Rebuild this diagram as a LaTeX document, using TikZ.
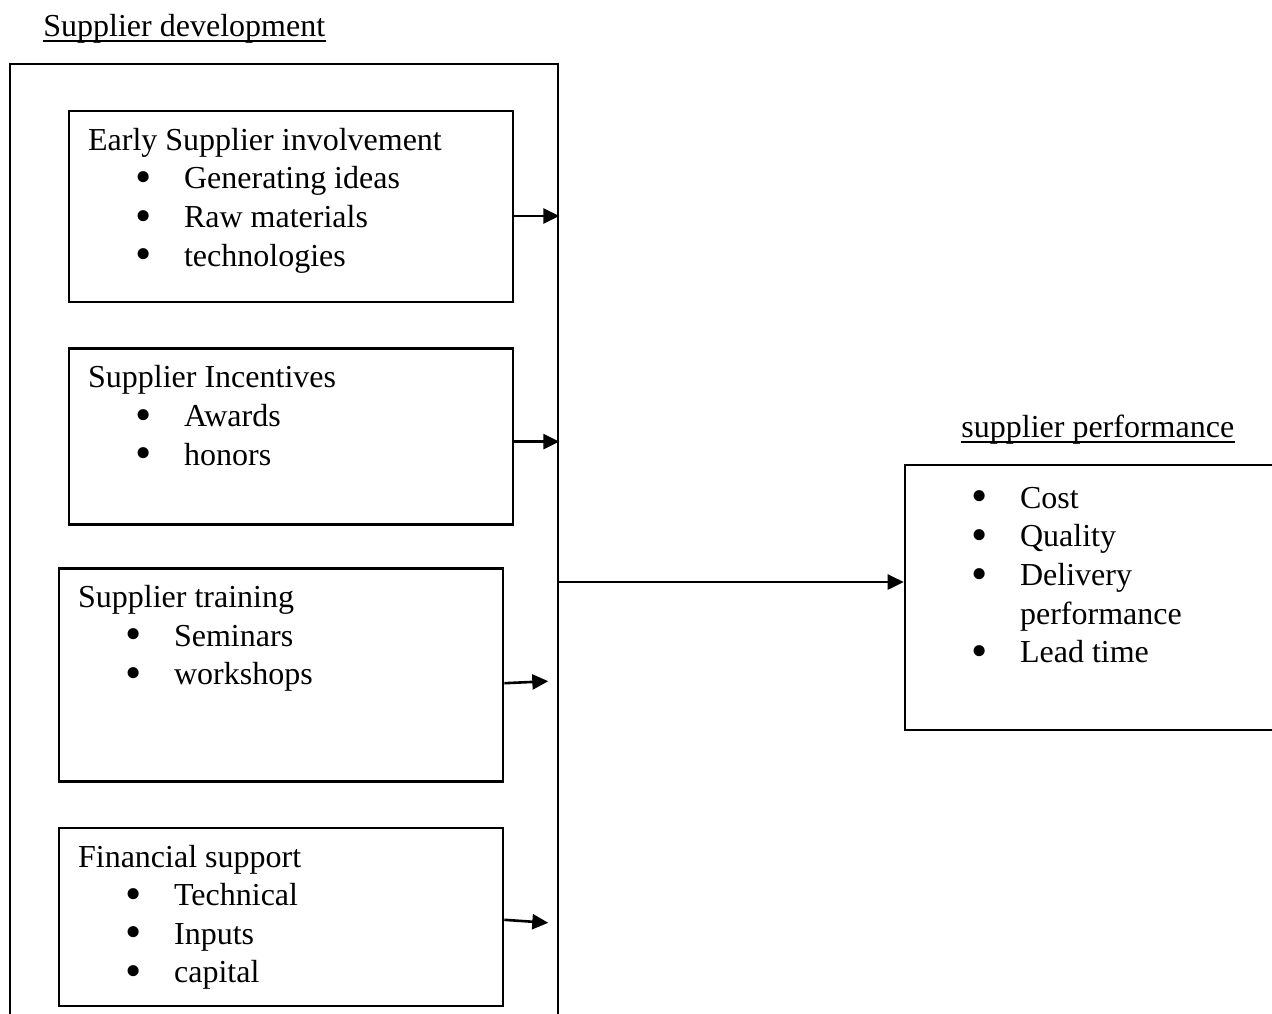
\documentclass[tikz,border=0pt]{standalone}
\usepackage{fontspec}
\usepackage{graphicx}
\setmainfont{Liberation Serif}
\usetikzlibrary{arrows.meta, positioning}

\newcommand{\itm}[1]{\hspace*{28pt}\makebox[0pt]{\raisebox{-1.8pt}{\scalebox{1.45}{\textbullet}}}\hspace*{20pt}#1}

\begin{document}
\begin{tikzpicture}[
    x=0.5pt, y=-0.5pt,
    every node/.style={font=\fontsize{16}{19.3}\selectfont},
    box/.style={rectangle, draw, line width=1.3pt, inner sep=0pt},
    txt/.style={inner sep=0pt, align=left, anchor=north west, execute at begin node=\strut},
    ttl/.style={inner sep=0pt, anchor=base west},
    arr/.style={line width=1.3pt, -{Triangle[length=8pt, width=7.5pt]}},
    uline/.style={line width=0.8pt}
]

    \useasboundingbox (0,0) rectangle (1272,1013);
    \clip (0,0) rectangle (1272,1013);

    % Boxes ------------------------------------------------------

    \node[box, minimum width=274pt, minimum height=488pt] (dev) at (284,552) {};
    \node[box, minimum width=222pt, minimum height=95.5pt] (b1) at (291,206.5) {};
    \node[box, minimum width=222pt, minimum height=88pt, below=22pt of b1] (b2) {};
    \node[box, minimum width=222pt, minimum height=106.5pt, below=20.5pt of b2, xshift=-5pt] (b3) {};
    \node[box, minimum width=222pt, minimum height=89pt, below=22pt of b3] (b4) {};
    \node[box, minimum width=192.5pt, minimum height=132.5pt] (perf) at (1097.5,597.5) {};

    % Titles -----------------------------------------------------

    \node[ttl] (devtitle) at (43,36) {Supplier development};
    \node[ttl] (perftitle) at (961,437) {supplier performance};
    \draw[uline] ([yshift=-2.5pt]devtitle.base west) -- ([yshift=-2.5pt]devtitle.base east);
    \draw[uline] ([yshift=-2.5pt]perftitle.base west) -- ([yshift=-2.5pt]perftitle.base east);

    % Texts ------------------------------------------------------

    \node[txt] (t1) at ([xshift=10pt, yshift=-9pt]b1.north west)
        {Early Supplier involvement\\ \itm{Generating ideas}\\ \itm{Raw materials}\\ \itm{technologies}};
    \node[txt] (t2) at ([xshift=10pt, yshift=-9pt]b2.north west)
        {Supplier Incentives\\ \itm{Awards}\\ \itm{honors}};
    \node[txt] (t3) at ([xshift=10pt, yshift=-9pt]b3.north west)
        {Supplier training\\ \itm{Seminars}\\ \itm{workshops}};
    \node[txt] (t4) at ([xshift=10pt, yshift=-9pt]b4.north west)
        {Financial support\\ \itm{Technical}\\ \itm{Inputs}\\ \itm{capital}};
    \node[txt] (t5) at ([xshift=10pt, yshift=-11.5pt]perf.north west)
        {\itm{Cost}\\ \itm{Quality}\\ \itm{Delivery}\\ \hspace*{48pt}performance\\ \itm{Lead time}};

    % Arrows -----------------------------------------------------

    \draw[arr] ([yshift=-4.75pt]b1.east) -- ([yshift=-4.75pt]b1.east -| dev.east);
    \draw[arr] ([yshift=-2.5pt]b2.east) -- ([yshift=-2.5pt]b2.east -| dev.east);
    \draw[arr] ([yshift=-4.25pt]b3.east) -- ([xshift=-5.5pt, yshift=-3.25pt]b3.east -| dev.east);
    \draw[arr] ([yshift=-1.5pt]b4.east) -- ([xshift=-5.5pt, yshift=-3pt]b4.east -| dev.east);
    \draw[arr] ([yshift=7.75pt]perf.west -| dev.east) -- ([yshift=7.75pt]perf.west);

\end{tikzpicture}
\end{document}
